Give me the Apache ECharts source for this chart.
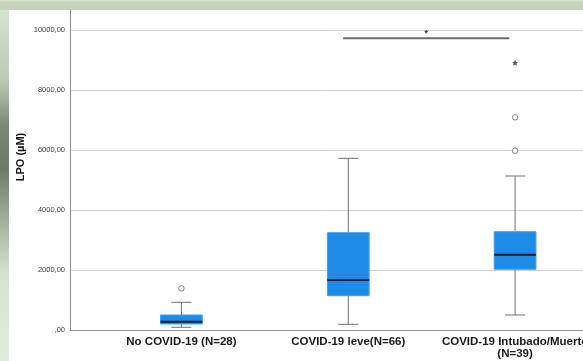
<!DOCTYPE html>
<html>
<head>
<meta charset="utf-8">
<script src="https://cdn.jsdelivr.net/npm/echarts@6/dist/echarts.min.js"></script>
<style>html,body{margin:0;padding:0;background:#fff;}#c{width:583px;height:361px;}</style>
</head>
<body>
<div id="c"></div>
<script>
// ---- data ----
var categories = ['No COVID-19 (N=28)', 'COVID-19 leve(N=66)', 'COVID-19 Intubado/Muerto\n(N=39)'];
var whiskerLow = [90, 190, 500];
var q1 = [200, 1143, 2023];
var median = [278, 1667, 2510];
var q3 = [500, 3243, 3277];
var whiskerHigh = [923, 5723, 5133];
var outliers = [[0, 1390], [2, 5977], [2, 7090]];
var extremes = [[2, 8910]];
var bracketX = [0.97, 1.965];
var bracketY = 9723;
var bracketLabel = '*';
var yTicks = [0, 2000, 4000, 6000, 8000, 10000];
var yAxisTitle = 'LPO (µM)';
var yMax = 10667;

var boxData = categories.map(function (c, i) {
  return [i, whiskerLow[i], q1[i], median[i], q3[i], whiskerHigh[i]];
});

var FONT = '"Liberation Sans", Arial, sans-serif';
var chart = echarts.init(document.getElementById('c'), null, {renderer: 'canvas'});

function renderBox(params, api) {
  var idx = api.value(0);
  var band = api.size([1, 0])[0];
  var half = band * 0.125;
  var cap = band * 0.06;
  var pLow = api.coord([idx, api.value(1)]);
  var pQ1 = api.coord([idx, api.value(2)]);
  var pMed = api.coord([idx, api.value(3)]);
  var pQ3 = api.coord([idx, api.value(4)]);
  var pHigh = api.coord([idx, api.value(5)]);
  var x = pMed[0];
  var wStyle = {stroke: '#707070', lineWidth: 1};
  return {
    type: 'group',
    children: [
      {type: 'line', shape: {x1: x, y1: pLow[1], x2: x, y2: pQ1[1]}, style: wStyle},
      {type: 'line', shape: {x1: x, y1: pQ3[1], x2: x, y2: pHigh[1]}, style: wStyle},
      {type: 'line', shape: {x1: x - cap, y1: pLow[1], x2: x + cap, y2: pLow[1]}, style: wStyle},
      {type: 'line', shape: {x1: x - cap, y1: pHigh[1], x2: x + cap, y2: pHigh[1]}, style: wStyle},
      {type: 'rect', shape: {x: x - half, y: pQ3[1], width: half * 2, height: pQ1[1] - pQ3[1]},
        style: {fill: '#1e8ce6', stroke: '#3d9ff0', lineWidth: 1}},
      {type: 'line', shape: {x1: x - half, y1: pMed[1], x2: x + half, y2: pMed[1]},
        style: {stroke: '#0d1a2a', lineWidth: 2}}
    ]
  };
}

var option = {
  backgroundColor: '#ffffff',
  animation: false,
  graphic: [
    {type: 'rect', left: 0, top: 0, shape: {width: 583, height: 10}, z: -10,
      style: {fill: new echarts.graphic.LinearGradient(0, 0, 0, 1, [
        {offset: 0, color: '#dfe6d8'}, {offset: 0.2, color: '#c8d4bd'}, {offset: 1, color: '#c5d2ba'}])}},
    {type: 'rect', left: 0, top: 10, shape: {width: 9, height: 351}, z: -10,
      style: {fill: new echarts.graphic.LinearGradient(0, 0, 0, 1, [
        {offset: 0, color: '#d6e3cd'},
        {offset: 0.2, color: '#bccab3'},
        {offset: 0.33, color: '#7c8874'},
        {offset: 0.45, color: '#6e7a66'},
        {offset: 0.6, color: '#a3af99'},
        {offset: 0.75, color: '#d6e3cc'},
        {offset: 1, color: '#e2ecdb'}])}},
    {type: 'text', x: 21, y: 157, rotation: Math.PI / 2,
      style: {text: yAxisTitle, font: 'bold 11px ' + FONT, fill: '#111', align: 'center', verticalAlign: 'middle'}}
  ],
  grid: [
    {left: 70, top: 10, width: 513, height: 320, outerBoundsMode: 'none', containLabel: false},
    {left: 98, top: 10, width: 500.5, height: 320, outerBoundsMode: 'none', containLabel: false}
  ],
  xAxis: [
    {type: 'value', gridIndex: 0, min: 0, max: 1,
      axisLine: {show: true, onZero: false, lineStyle: {color: '#999999', width: 1}},
      axisTick: {show: false}, axisLabel: {show: false}, splitLine: {show: false}},
    {type: 'category', gridIndex: 1, data: categories, boundaryGap: true,
      axisLine: {show: false}, axisTick: {show: false}, splitLine: {show: false},
      axisLabel: {interval: 0, margin: 6, fontFamily: FONT, fontSize: 11.5, fontWeight: 'bold',
        color: '#1a1a1a', lineHeight: 12, hideOverlap: false}},
    {type: 'value', gridIndex: 1, min: -0.5, max: 2.5, show: false}
  ],
  yAxis: [
    {type: 'value', gridIndex: 0, min: 0, max: yMax, interval: 2000,
      axisLine: {show: true, lineStyle: {color: '#8a8a8a', width: 1}},
      axisTick: {show: false},
      splitLine: {show: true, showMaxLine: false, showMinLine: false, lineStyle: {color: '#d2d2d2', width: 1}},
      axisLabel: {showMaxLabel: false, margin: 5, fontFamily: FONT, fontSize: 7.5, color: '#3a3a3a',
        formatter: function (v) {
          if (yTicks.indexOf(v) < 0) return '';
          return v === 0 ? ',00' : v + ',00';
        }}},
    {type: 'value', gridIndex: 1, min: 0, max: yMax, show: false}
  ],
  series: [
    {type: 'custom', xAxisIndex: 1, yAxisIndex: 1, data: boxData, renderItem: renderBox,
      encode: {x: 0, y: [1, 2, 3, 4, 5]}},
    {type: 'scatter', xAxisIndex: 1, yAxisIndex: 1, data: outliers, symbol: 'circle', symbolSize: 5.5,
      itemStyle: {color: '#ffffff', borderColor: '#666666', borderWidth: 1}},
    {type: 'scatter', xAxisIndex: 1, yAxisIndex: 1, data: extremes,
      symbol: 'path://M0,-10 L2.9,-4 9.5,-3.1 4.7,1.5 5.9,8.1 0,5 -5.9,8.1 -4.7,1.5 -9.5,-3.1 -2.9,-4 Z',
      symbolSize: 6, itemStyle: {color: '#333333'}},
    {type: 'line', xAxisIndex: 2, yAxisIndex: 1,
      data: [[bracketX[0], bracketY], [bracketX[1], bracketY]],
      symbol: 'none', lineStyle: {color: '#6a6a6a', width: 2},
      markPoint: {symbol: 'circle', symbolSize: 0,
        data: [{coord: [(bracketX[0] + bracketX[1]) / 2, bracketY]}],
        label: {show: true, formatter: bracketLabel, position: 'top', distance: 0,
          fontFamily: FONT, fontSize: 9, fontWeight: 'bold', color: '#333'}}}
  ]
};
chart.setOption(option);
</script>
</body>
</html>
